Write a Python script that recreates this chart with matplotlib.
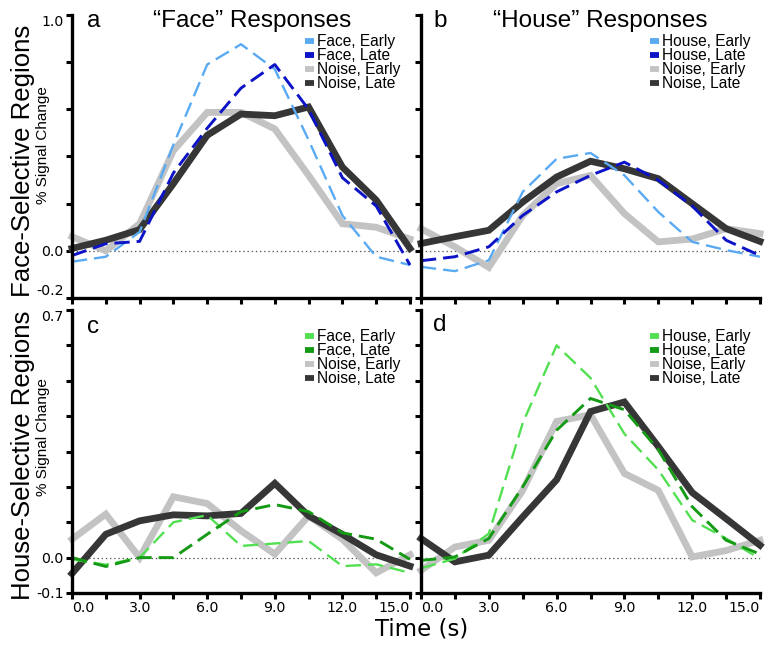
import matplotlib
matplotlib.use("Agg")
import matplotlib.pyplot as plt
from matplotlib.lines import Line2D
from matplotlib.ticker import FixedLocator, FixedFormatter

plt.rcParams['lines.scale_dashes'] = False

W, H = 771, 650
DPI = 100

time = [0.0, 1.5, 3.0, 4.5, 6.0, 7.5, 9.0, 10.5, 12.0, 13.5, 15.0]

# Panel a: face-selective regions, "Face" responses
a_face_early = [-0.046, -0.025, 0.08, 0.45, 0.79, 0.876, 0.77, 0.47, 0.15, -0.025, -0.06]
a_face_late = [-0.02, 0.03, 0.04, 0.33, 0.52, 0.69, 0.79, 0.60, 0.31, 0.19, -0.06]
a_noise_early = [0.06, 0.0, 0.115, 0.425, 0.587, 0.587, 0.517, 0.32, 0.115, 0.10, 0.05]
a_noise_late = [0.01, 0.045, 0.09, 0.285, 0.49, 0.58, 0.573, 0.61, 0.355, 0.215, 0.01]

# Panel b: face-selective regions, "House" responses
b_house_early = [-0.068, -0.086, -0.04, 0.25, 0.39, 0.415, 0.32, 0.165, 0.038, 0.003, -0.025]
b_house_late = [-0.042, -0.025, 0.017, 0.15, 0.25, 0.32, 0.376, 0.30, 0.19, 0.045, -0.02]
b_noise_early = [0.094, 0.017, -0.07, 0.15, 0.285, 0.32, 0.158, 0.038, 0.05, 0.094, 0.073]
b_noise_late = [0.031, 0.06, 0.087, 0.207, 0.313, 0.38, 0.348, 0.306, 0.2, 0.094, 0.04]

# Panel c: house-selective regions, "Face" responses
c_face_early = [-0.005, -0.02, 0.0, 0.10, 0.12, 0.033, 0.04, 0.047, -0.024, -0.019, -0.043]
c_face_late = [0.0, -0.025, 0.0, 0.0, 0.066, 0.13, 0.15, 0.13, 0.07, 0.052, -0.005]
c_noise_early = [0.052, 0.123, 0.0, 0.172, 0.153, 0.076, 0.01, 0.118, 0.052, -0.043, 0.008]
c_noise_late = [-0.045, 0.066, 0.104, 0.121, 0.118, 0.125, 0.21, 0.118, 0.066, 0.008, -0.024]

# Panel d: house-selective regions, "House" responses
d_house_early = [-0.03, -0.003, 0.068, 0.38, 0.60, 0.508, 0.35, 0.248, 0.106, 0.054, -0.003]
d_house_late = [-0.008, 0.002, 0.054, 0.2, 0.36, 0.45, 0.418, 0.305, 0.144, 0.049, 0.01]
d_noise_early = [-0.036, 0.03, 0.049, 0.19, 0.385, 0.404, 0.238, 0.19, 0.002, 0.02, 0.049]
d_noise_late = [0.054, -0.012, 0.007, 0.115, 0.22, 0.413, 0.44, 0.314, 0.184, 0.11, 0.035]

top_yticks = [-0.2, 0.0, 0.2, 0.4, 0.6, 0.8, 1.0]
top_ylabels = ['-0.2', '0.0', '', '', '', '', '1.0']
bot_yticks = [-0.1, 0.0, 0.1, 0.2, 0.3, 0.4, 0.5, 0.6, 0.7]
bot_ylabels = ['-0.1', '0.0', '', '', '', '', '', '', '0.7']
xticks = time
xlabels = ['0.0', '', '3.0', '', '6.0', '', '9.0', '', '12.0', '', '15.0']

C_BLUE_L = '#5aaaf2'
C_BLUE_D = '#0c12c6'
C_GREEN_L = '#52e052'
C_GREEN_D = '#159a15'
C_GRAY_L = '#c3c3c3'
C_GRAY_D = '#363636'

fig = plt.figure(figsize=(W / DPI, H / DPI), dpi=DPI)


def px_axes(left, top, right, bottom):
    return fig.add_axes([left / W, 1 - bottom / H, (right - left) / W, (bottom - top) / H])


def style(ax, ylim, yt, yl, show_ylabels, show_xlabels, top_row):
    ax.set_xlim(0, 15)
    ax.set_ylim(*ylim)
    for s in ['top', 'right']:
        ax.spines[s].set_visible(False)
    for s in ['left', 'bottom']:
        ax.spines[s].set_linewidth(2.4)
        ax.spines[s].set_color('black')
    ax.xaxis.set_major_locator(FixedLocator(xticks))
    ax.yaxis.set_major_locator(FixedLocator(yt))
    ax.xaxis.set_major_formatter(FixedFormatter(xlabels if show_xlabels else [''] * len(xticks)))
    ax.yaxis.set_major_formatter(FixedFormatter(yl if show_ylabels else [''] * len(yt)))
    ax.tick_params(direction='out', length=4.5, width=2.2, labelsize=10.2, pad=1.5,
                   colors='black')
    fig.canvas.draw()
    xl = ax.get_xticklabels()
    for lab in xl + ax.get_yticklabels():
        lab.set_family('DejaVu Sans')
    xl[0].set_ha('left')
    xl[-1].set_ha('right')
    yls = ax.get_yticklabels()
    yls[-1].set_va('top')
    if top_row:
        yls[0].set_va('bottom')
    ax.axhline(0, color='#555555', lw=0.9, ls=(0, (1, 2)), zorder=1)
    for sp in ax.spines.values():
        sp.set_zorder(10)


def draw(ax, e1, l1, ne, nl, cl, cd, names):
    ax.plot(time, ne, color=C_GRAY_L, lw=4.9, solid_joinstyle='miter', zorder=2, clip_on=False)
    ax.plot(time, nl, color=C_GRAY_D, lw=4.9, solid_joinstyle='miter', zorder=3, clip_on=False)
    ax.plot(time, e1, color=cl, lw=1.7, ls=(0, (11, 5)), zorder=4, clip_on=False)
    ax.plot(time, l1, color=cd, lw=2.1, ls=(0, (11, 5)), zorder=5, clip_on=False)
    handles = [Line2D([], [], color=c, lw=4.2, solid_capstyle='butt')
               for c in [cl, cd, C_GRAY_L, C_GRAY_D]]
    leg = ax.legend(handles, names, loc='upper right', bbox_to_anchor=(1.0, 0.965),
                    frameon=False, handlelength=0.6, handletextpad=0.2,
                    labelspacing=-0.06, borderaxespad=0.2,
                    prop={'family': ['Liberation Sans Narrow', 'Liberation Sans'], 'size': 11.2})
    leg.set_zorder(20)


ax_a = px_axes(72, 15, 410, 298)
ax_b = px_axes(421, 15, 760, 298)
ax_c = px_axes(72, 310, 410, 593)
ax_d = px_axes(421, 310, 760, 593)

style(ax_a, (-0.2, 1.0), top_yticks, top_ylabels, True, False, True)
style(ax_b, (-0.2, 1.0), top_yticks, top_ylabels, False, False, True)
style(ax_c, (-0.1, 0.7), bot_yticks, bot_ylabels, True, True, False)
style(ax_d, (-0.1, 0.7), bot_yticks, bot_ylabels, False, True, False)

draw(ax_a, a_face_early, a_face_late, a_noise_early, a_noise_late, C_BLUE_L, C_BLUE_D,
     ['Face, Early', 'Face, Late', 'Noise, Early', 'Noise, Late'])
draw(ax_b, b_house_early, b_house_late, b_noise_early, b_noise_late, C_BLUE_L, C_BLUE_D,
     ['House, Early', 'House, Late', 'Noise, Early', 'Noise, Late'])
draw(ax_c, c_face_early, c_face_late, c_noise_early, c_noise_late, C_GREEN_L, C_GREEN_D,
     ['Face, Early', 'Face, Late', 'Noise, Early', 'Noise, Late'])
draw(ax_d, d_house_early, d_house_late, d_noise_early, d_noise_late, C_GREEN_L, C_GREEN_D,
     ['House, Early', 'House, Late', 'Noise, Early', 'Noise, Late'])


def ftext(x, y, s, **kw):
    fig.text(x / W, 1 - y / H, s, **kw)


big = {'family': 'Liberation Sans', 'size': 17.5}
ftext(94, 21, 'a', ha='center', va='center', **big)
ftext(440, 21, 'b', ha='center', va='center', **big)
ftext(93, 327, 'c', ha='center', va='center', **big)
ftext(440, 325, 'd', ha='center', va='center', **big)
ftext(252, 21, '\u201cFace\u201d Responses', ha='center', va='center', **big)
ftext(600, 21, '\u201cHouse\u201d Responses', ha='center', va='center', **big)

ftext(23, 161, 'Face-Selective Regions', rotation=90, ha='center', va='center',
      family='Liberation Sans', size=18.5)
ftext(43, 145, '% Signal Change', rotation=90, ha='center', va='center',
      family='Liberation Sans', size=11)
ftext(23, 455, 'House-Selective Regions', rotation=90, ha='center', va='center',
      family='Liberation Sans', size=18.5)
ftext(43, 437, '% Signal Change', rotation=90, ha='center', va='center',
      family='Liberation Sans', size=11)
ftext(422, 629, 'Time (s)', ha='center', va='center', family='DejaVu Sans', size=16.5)

fig.savefig('out.png', dpi=DPI)
